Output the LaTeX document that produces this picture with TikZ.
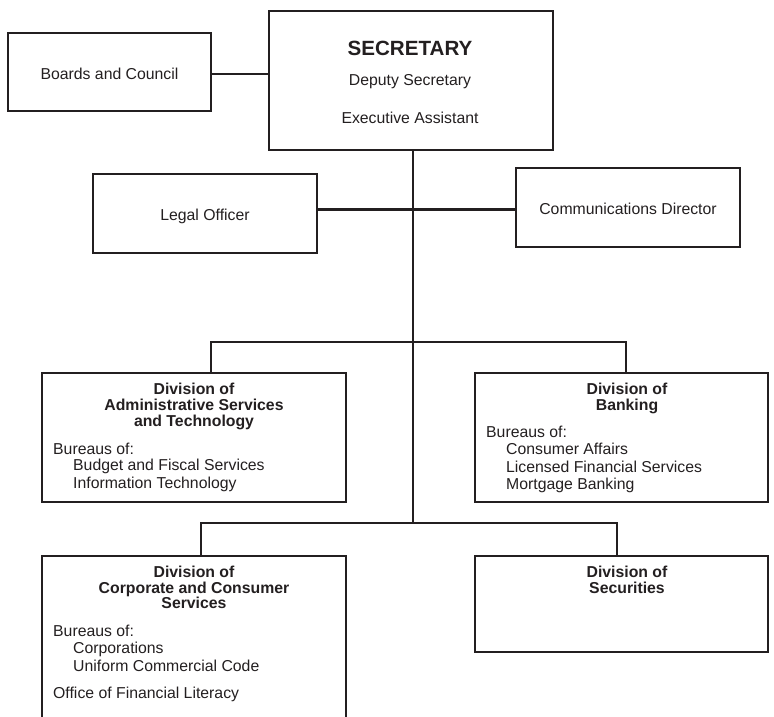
\documentclass[tikz,border=0pt]{standalone}
\usepackage{fontspec}
\setmainfont{Liberation Sans}
\definecolor{ink}{RGB}{35,31,32}
\tikzset{
  box/.style={draw=ink, line width=2.3pt, inner sep=0pt, fill=none},
  conn/.style={draw=ink, line width=2.2pt},
  txt/.style={inner sep=0pt, anchor=base, text=ink, font=\fontsize{15.8}{18}\selectfont},
  hd/.style={txt, font=\bfseries\fontsize{15.8}{18}\selectfont},
  lt/.style={txt, anchor=base west},
}
\begin{document}
\begin{tikzpicture}[x=1pt,y=-1pt]
\useasboundingbox (0,0) rectangle (774,717);
\clip (0,0) rectangle (774,717);
% boxes
\node[box, minimum width=203pt, minimum height=78pt] (boards) at (109.5,72) {};
\node[box, minimum width=284pt, minimum height=139pt] (sec) at (411,80.5) {};
\node[box, minimum width=224pt, minimum height=79pt] (legal) at (205,213.5) {};
\node[box, minimum width=224pt, minimum height=79pt] (comms) at (628,207.5) {};
\node[box, minimum width=304pt, minimum height=129pt] (admin) at (194,437.5) {};
\node[box, minimum width=293pt, minimum height=129pt] (bank) at (621.5,437.5) {};
\node[box, minimum width=304pt, minimum height=184pt] (corp) at (194,648) {};
\node[box, minimum width=293pt, minimum height=96pt] (secu) at (621.5,604) {};
% junction coordinates
\coordinate (top) at (413,150);
\coordinate (j1) at (413,342);
\coordinate (j2) at (413,523);
% connectors
\draw[conn] ([yshift=-2pt]boards.east) -- ([yshift=-2pt]boards.east -| sec.west);
\draw[conn] (top) -- (j2);
\draw[conn] ([yshift=4pt]legal.east) -- ([yshift=4pt]legal.east -| top);
\draw[conn] ([yshift=-2pt]comms.west -| top) -- ([yshift=-2pt]comms.west);
\draw[conn] ([xshift=17pt]admin.north) |- (j1) -| ([xshift=4.5pt]bank.north);
\draw[conn] ([xshift=7pt]corp.north) |- (j2) -| ([xshift=-4.5pt]secu.north);
% texts
\node[txt] (tboards) at (109.5,79.6) {Boards and Council};
\node[txt, font=\bfseries\fontsize{20.6}{22}\selectfont] (tsec) at (410,56) {SECRETARY};
\node[txt] (tdep) at (410,85) {Deputy Secretary};
\node[txt] (texe) at (410,123) {Executive Assistant};
\node[txt] (tlegal) at (205,220.6) {Legal Officer};
\node[txt] (tcomms) at (628,214.6) {Communications Director};
% admin
\node[hd] (ta1) at (194,394.6) {Division of};
\node[hd] (ta2) at (194,410.6) {Administrative Services};
\node[hd] (ta3) at (194,426.3) {and Technology};
\node[lt] (ta4) at (53,454) {Bureaus of:};
\node[lt] (ta5) at (73,470.8) {Budget and Fiscal Services};
\node[lt] (ta6) at (73,488) {Information Technology};
% banking
\node[hd] (tb1) at (627,394.6) {Division of};
\node[hd] (tb2) at (627,410.6) {Banking};
\node[lt] (tb3) at (486,437.3) {Bureaus of:};
\node[lt] (tb4) at (506,454.6) {Consumer Affairs};
\node[lt] (tb5) at (506,472) {Licensed Financial Services};
\node[lt] (tb6) at (506,489.6) {Mortgage Banking};
% corporate
\node[hd] (tc1) at (194,577.3) {Division of};
\node[hd] (tc2) at (194,593.5) {Corporate and Consumer};
\node[hd] (tc3) at (194,608.6) {Services};
\node[lt] (tc4) at (53,636.3) {Bureaus of:};
\node[lt] (tc5) at (73,653.6) {Corporations};
\node[lt] (tc6) at (73,671.3) {Uniform Commercial Code};
\node[lt] (tc7) at (53,698) {Office of Financial Literacy};
% securities
\node[hd] (ts1) at (627,577.3) {Division of};
\node[hd] (ts2) at (627,593) {Securities};
\end{tikzpicture}
\end{document}
